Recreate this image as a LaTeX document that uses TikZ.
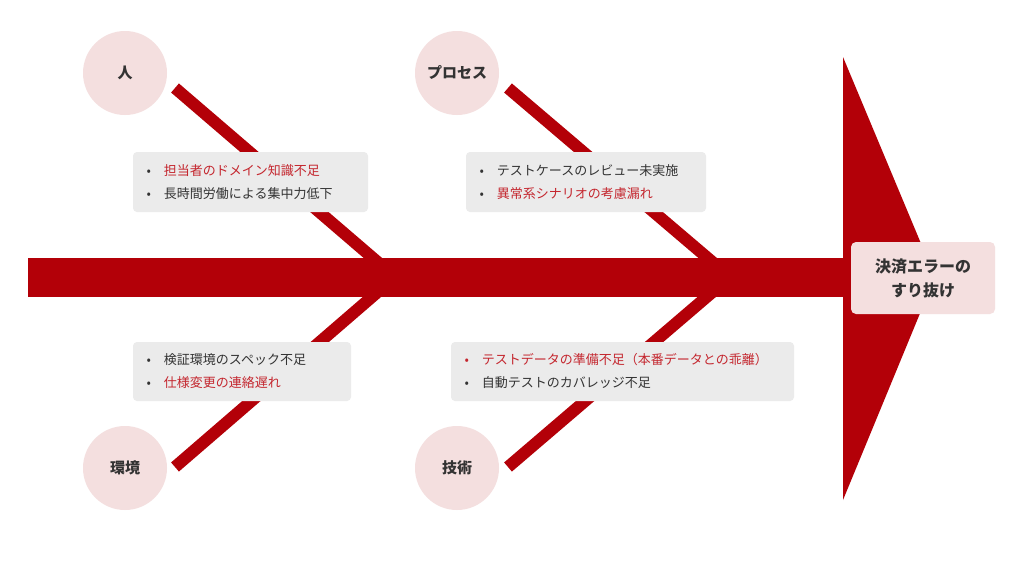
\documentclass[tikz,border=0pt]{standalone}
\usepackage{fontspec}
\newfontfamily\cjk{Noto Sans CJK JP}
\definecolor{fred}{HTML}{B30008}
\definecolor{tred}{HTML}{C4262E}
\definecolor{pinkc}{HTML}{F4DFDF}
\definecolor{greyb}{HTML}{EBEBEB}
\definecolor{dtxt}{HTML}{333333}
\begin{document}
\begin{tikzpicture}[x=1pt,y=-1pt,
  bone/.style={fred,line width=12pt},
  cat/.style={circle,fill=pinkc,minimum size=84pt,inner sep=0pt,font=\cjk\fontsize{15}{18}\selectfont\bfseries,text=dtxt},
  ibox/.style={fill=greyb,rounded corners=4pt,anchor=north west},
  itm/.style={anchor=west,font=\cjk\fontsize{13}{16}\selectfont}]
\useasboundingbox (0,0) rectangle (1024,576);
\fill[white] (0,0) rectangle (1024,576);
% bones
\draw[bone] (175,88) -- (395,277) -- (175,467);
\draw[bone] (508,88) -- (730,277) -- (508,467);
% spine and head
\fill[fred] (28,258) rectangle (846,297);
\fill[fred] (843,57) -- (935,277) -- (843,500) -- cycle;
\node[fill=pinkc,rounded corners=5pt,minimum width=144pt,minimum height=72pt,align=center,font=\cjk\fontsize{16}{24}\selectfont\bfseries,text=dtxt] (head) at (923,278) {決済エラーの\\すり抜け};
% categories
\node[cat] (p) at (125,73) {人};
\node[cat] (pr) at (457,73) {プロセス};
\node[cat] (e) at (125,468) {環境};
\node[cat] (t) at (457,468) {技術};
% boxes
\fill[greyb,rounded corners=4pt] (133,152) rectangle (368,212);
\node[itm,text=tred] (a1) at (143,171) {\textcolor{dtxt}{•}\hspace{13pt}担当者のドメイン知識不足};
\node[itm,text=dtxt] (a2) at (143,194) {•\hspace{13pt}長時間労働による集中力低下};
\fill[greyb,rounded corners=4pt] (466,152) rectangle (706,212);
\node[itm,text=dtxt] (b1) at (476,171) {•\hspace{13pt}テストケースのレビュー未実施};
\node[itm,text=tred] (b2) at (476,194) {\textcolor{dtxt}{•}\hspace{13pt}異常系シナリオの考慮漏れ};
\fill[greyb,rounded corners=4pt] (133,342) rectangle (351,401);
\node[itm,text=dtxt] (c1) at (143,360) {•\hspace{13pt}検証環境のスペック不足};
\node[itm,text=tred] (c2) at (143,383) {\textcolor{dtxt}{•}\hspace{13pt}仕様変更の連絡遅れ};
\fill[greyb,rounded corners=4pt] (451,342) rectangle (794,401);
\node[itm,text=tred] (d1) at (461,360) {\textcolor{tred}{•}\hspace{13pt}テストデータの準備不足（本番データとの乖離）};
\node[itm,text=dtxt] (d2) at (461,383) {•\hspace{13pt}自動テストのカバレッジ不足};
\end{tikzpicture}
\end{document}
